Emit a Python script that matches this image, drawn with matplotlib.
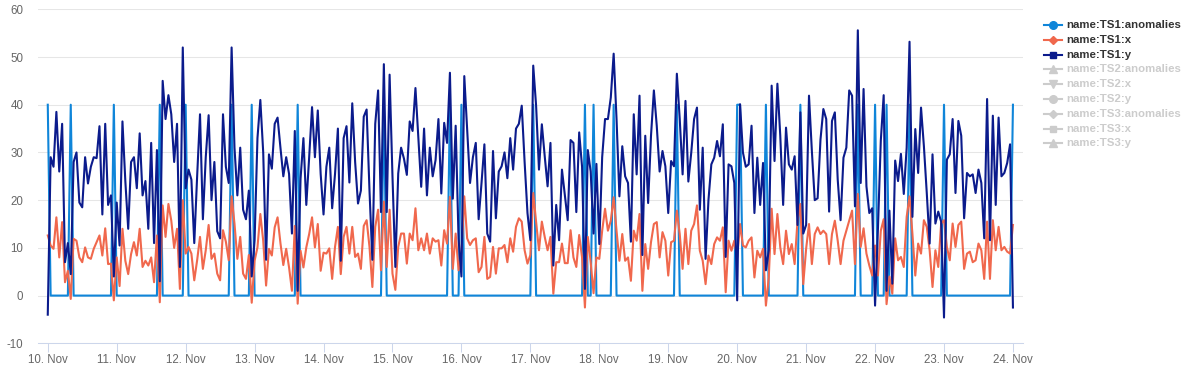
import matplotlib
matplotlib.use("Agg")
import matplotlib.pyplot as plt
import matplotlib.dates as mdates
from matplotlib.lines import Line2D
import pandas as pd

# ---------------- data (hourly, 10 Nov 00:00 .. 24 Nov 00:00) ----------------
start_time = "2023-11-10 00:00"

ts1_anomalies = (
    [40,0,0,0,0,0,0,0,40,0,0,0,0,0,0,0,0,0,0,0,0,0,0,40]      # 10 Nov
    + [0,0,0,0,0,0,0,0,0,0,0,0,0,0,0,40,0,0,0,0,0,0,0,0]      # 11 Nov
    + [40,0,0,0,0,0,0,0,0,0,0,0,0,0,0,0,40,0,0,0,0,0,0,40]    # 12 Nov
    + [0,0,0,0,0,0,0,0,0,0,0,0,0,0,0,40,0,0,0,0,0,0,0,0]      # 13 Nov
    + [0,0,0,0,0,0,0,0,0,0,0,0,0,0,0,0,0,0,0,0,0,40,0,0]      # 14 Nov
    + [0,0,0,0,0,0,0,0,0,0,0,0,0,0,0,0,0,0,0,0,40,0,0,0]      # 15 Nov
    + [40,0,0,0,0,0,0,0,0,0,0,0,0,0,0,0,0,0,0,0,0,0,0,0]      # 16 Nov
    + [0,40,0,0,0,0,0,0,0,0,0,0,0,0,0,0,0,0,0,40,0,0,40,0]    # 17 Nov
    + [0,0,0,0,0,40,0,0,0,0,0,0,0,0,0,0,0,0,0,0,0,0,0,0]      # 18 Nov
    + [0,0,0,40,0,0,0,0,0,0,0,0,0,0,0,0,0,0,0,0,0,0,0,0]      # 19 Nov
    + [40,40,0,0,0,0,0,0,0,0,40,0,0,0,0,0,0,0,0,0,0,0,40,0]   # 20 Nov
    + [0,0,0,0,0,0,0,0,0,0,0,0,0,0,0,0,0,0,40,0,0,0,0,0]      # 21 Nov
    + [40,0,0,0,40,0,0,0,0,0,0,0,40,0,0,0,0,0,0,0,0,0,0,0]    # 22 Nov
    + [40,0,0,0,0,0,0,0,0,0,0,0,0,0,0,0,0,0,0,0,0,0,0,0]      # 23 Nov
    + [40]                                                     # 24 Nov
)

ts1_x = (
    [12.6,10.5,9.8,16.4,8,15.4,2.8,5.2,-0.7,11.9,11.5,8,7,10.1,8,7.7,9.8,11.2,12.6,8.4,14.1,6.6,6.7,-1]
    + [8,2,14,7.3,4.5,8.7,11.2,8.4,14,6,7.3,6.3,8,2.8,12.6,-1.4,18.9,12.3,19.2,15.7,10,14,1.4,20]
    + [8.8,10.2,8.8,3.2,7.4,12.3,5.6,9.5,14.8,7.7,8.8,4.6,3.2,13.7,11.3,7.4,20.8,15.1,7.7,12.3,4.6,3.5,8.5,-1.5]
    + [7.3,10.1,17.1,11.5,2.1,9.8,8.4,14.3,16.4,11,6.4,9.8,5.9,1,14.6,-1.7,9.4,5.9,10.1,12.9,16.4,10.1,15,5.2]
    + [9,8.8,9.9,3.5,10.2,14.4,4.5,12.3,14.4,8.8,14.4,8.1,8.8,5.6,14.6,15.8,10.2,1.8,14.4,18,5.3,19.7,6,18]
    + [4.6,1.2,10.2,13,13,6.7,13,11.6,18.3,9.5,12,9.5,13,8.8,12,11.3,11.6,6.3,13.7,10.9,20.7,5.6,13,5.3]
    + [9,20.8,12,10.6,11.6,12,4.9,6,12.3,3.5,3.9,10.2,4.6,9.9,9.9,10.6,7,12,9.2,14.4,16.2,15.5,9.5,6.7]
    + [8.5,21.5,15.5,9.5,15.5,12.3,9.5,12.3,0.4,7,7,10.9,6.8,6.8,13.7,8,6,12.7,8,-2.5,12.3,7,0.5,8]
    + [7.7,13.6,18.2,13.6,15.7,20.6,13.6,7.3,12.9,7.3,8,3.1,13.6,11.5,17.1,1,10.8,5.6,11.2,15,15.4,8,13.3,11.5]
    + [4.2,11.2,11.5,17.8,12.9,5.6,14,6.6,13.6,15,18.9,9.4,7.3,2.4,8.4,6.6,10.8,12.2,11.5,14.3,0.7,11.5,9.4,11.5]
    + [8,15,10.5,10.1,11.5,12.2,3.8,9.4,8,9.8,-2.1,3.8,18.2,8.7,17.1,10.1,6.6,13.6,8.7,10.8,6.6,15.7,19.2,2.4]
    + [9.8,15,6.6,12.9,14.3,12.9,13.6,12.9,6.6,12.9,15.7,11.5,6.6,11.5,13.6,15.7,17.8,6.6,21.3,10.2,14.1,8.8,6.3,4.2]
    + [10.5,4.2,13.6,16,-1.8,4,0.4,12,7.4,8.1,6,16.5,20.8,13,4.2,10.9,8.8,15.8,14.4,9.5,1.8,9.5,6,15.1]
    + [15.8,10.2,7.4,15.1,10.2,14.8,15.5,5.6,8.8,9.2,7,7.4,10.9,9.5,3.5,15.5,3.5,15.8,9.5,14.4,9.5,10.2,9.2,8.8]
    + [14.8]
)

ts1_y = (
    [-4,29,27,38.5,26,36,7,11,4.5,28,30,19.5,18.5,29,23.5,27,29,28.8,35.5,17,36,19,21,4]
    + [19.5,10.5,36.5,24,14,28,29,22.5,34,21,24,14,32,11,30.5,3,45,37,42,38,28,36,6,52]
    + [22.5,26.4,24.3,11,25,38,16,29,37.8,20,28,13.5,12,38,27,23.6,52,31,21,31,18,16,22,4]
    + [11.6,33,41,30,7.5,29.6,26.6,36,37.3,31,25,29,25.5,13,34.5,1,24.5,33,19,29,39.5,29,38.8,25.5]
    + [17,27,31,18.3,25.5,35,7.3,33,35.5,23.7,40.3,28,19.3,22,37.5,39,22,7.5,36,43,17.5,48.5,17.5,46.3]
    + [25,6,25.6,31,28.7,25.3,36.5,34.5,43.5,33,22.8,35,21,31,25,28.4,37,21.4,36.2,32,46.7,20.3,35.6,12]
    + [4,46,35,23.6,29,32,16,23.6,31.7,13,11.3,30.3,16.2,26,27.1,30,24.6,33,26.4,35,36,39.8,28,17.3]
    + [11.6,48.2,39.8,26.4,35.9,29.2,22.9,32,6.3,19,11.6,26.4,21,15.8,32.6,32,17.5,34.2,27,1.4,30.5,26,13,27.6]
    + [10.8,29,37,37,41.5,50.7,37,20.8,31.3,25,23.6,11.3,38,25.4,41.9,8.5,33.5,19.4,33.5,43,35.6,26,30.3,27.1]
    + [17.3,28.2,27.1,46.5,37,25.4,40.8,23.9,29.9,37,39.4,18,31,7.7,20,27.5,28.9,32.4,29.2,35.9,8.1,27.5,27.1,23.6]
    + [-1,40.1,30,27,27.5,35.6,17.3,28.9,19,27.8,5.3,9.5,44,28.2,44.4,33.5,19,35.2,27.5,26.4,29.2,14.8,38.4,13]
    + [14.8,41.9,30.3,20,20.4,32.7,39.1,37,17.6,36.6,38.4,24.3,15.8,28.9,31,43,41.9,18.7,55.6,23.6,43.3,22.9,17.3,18.3]
    + [-2.1,14,32.5,42,1,17.8,2.5,28.3,24,29.7,21.3,31,53.2,16.5,34.9,25.7,39.4,31.3,21.5,10.9,29.6,15.1,17.6,15.5]
    + [-4.6,28.5,29.6,37,21.5,36.6,33.5,16.2,25.7,25,25.4,21.5,26.4,23.6,12,41.2,11.6,37.7,19,37.3,25,25.7,27.8,31.7]
    + [-2.5]
)

legend_labels = ["name:TS1:anomalies", "name:TS1:x", "name:TS1:y",
                 "name:TS2:anomalies", "name:TS2:x", "name:TS2:y",
                 "name:TS3:anomalies", "name:TS3:x", "name:TS3:y"]

# ---------------- style ----------------
C_ANOM = "#0f85d9"
C_X = "#f0684d"
C_Y = "#0b1b8c"
C_HIDDEN = "#cccccc"
FONT = "Liberation Sans"
plt.rcParams["font.family"] = [FONT, "DejaVu Sans"]
plt.rcParams["axes.unicode_minus"] = False

W, H = 1191, 375
fig = plt.figure(figsize=(W / 100, H / 100), dpi=100)
left, right, top, bottom = 38, 1023, 9.3, 343.3
ax = fig.add_axes([left / W, 1 - bottom / H, (right - left) / W, (bottom - top) / H])


def times(n):
    return pd.date_range(start_time, periods=n, freq="h")


ax.plot(times(len(ts1_anomalies)), ts1_anomalies, color=C_ANOM, lw=1.5, zorder=2,
        solid_joinstyle="round")
ax.plot(times(len(ts1_x)), ts1_x, color=C_X, lw=1.5, zorder=3, solid_joinstyle="round")
ax.plot(times(len(ts1_y)), ts1_y, color=C_Y, lw=1.5, zorder=4, solid_joinstyle="round")

t0 = pd.Timestamp(start_time)
ax.set_xlim(t0 - pd.Timedelta(hours=3.4), t0 + pd.Timedelta(hours=339.5))
ax.set_ylim(-10, 60)
ax.set_yticks(range(-10, 61, 10))
ax.grid(axis="y", color="#e6e6e6", lw=0.75)
ax.set_axisbelow(True)
for s in ("top", "right", "left"):
    ax.spines[s].set_visible(False)
ax.spines["bottom"].set_color("#ccd6eb")
ax.spines["bottom"].set_linewidth(0.75)

ax.xaxis.set_major_locator(mdates.DayLocator())
ax.xaxis.set_major_formatter(mdates.DateFormatter("%d. %b"))
ax.tick_params(axis="y", length=0, pad=10.5, labelsize=8.3, labelcolor="#666666")
ax.tick_params(axis="x", length=6.5, width=0.75, color="#ccd6eb", pad=1.5,
               labelsize=8.3, labelcolor="#666666")

# ---------------- legend (right side) ----------------
markers = ["o", "D", "s", "^", "v", "o", "D", "s", "^"]
msizes = [5.5, 4.2, 5.0, 5.5, 5.5, 5.5, 4.2, 5.0, 5.5]
colors = [C_ANOM, C_X, C_Y] + [C_HIDDEN] * 6
text_colors = ["#333333"] * 3 + [C_HIDDEN] * 6
for i, lab in enumerate(legend_labels):
    yc = 1 - (25 + i * 14.8) / H
    fig.add_artist(Line2D([1044 / W, 1062 / W], [yc, yc], transform=fig.transFigure,
                          color=colors[i], lw=1.5))
    fig.add_artist(Line2D([1053 / W], [yc], transform=fig.transFigure, marker=markers[i],
                          markersize=msizes[i], color=colors[i], lw=0))
    fig.text(1066 / W, yc, lab, ha="left", va="center", fontsize=8.2, fontweight="bold",
             color=text_colors[i])

fig.savefig("out.png", dpi=100)
